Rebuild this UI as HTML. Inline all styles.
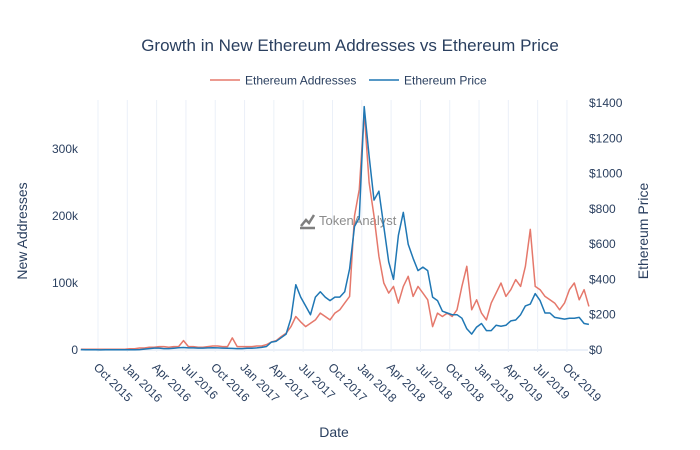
<!DOCTYPE html>
<html><head><meta charset="utf-8"><style>
body{margin:0;background:#fff}
svg{font-family:"Liberation Sans",sans-serif;display:block}
</style></head><body>
<svg id="c" width="700" height="450">
<text x="350" y="51" text-anchor="middle" font-size="17" fill="#2a3f5f">Growth in New Ethereum Addresses vs Ethereum Price</text>
<g>
<g><line x1="210" y1="80" x2="240" y2="80" stroke="#e5786b" stroke-width="1.5"/><text x="245" y="84.5" font-size="12" fill="#2a3f5f">Ethereum Addresses</text></g>
<g><line x1="369" y1="80" x2="399" y2="80" stroke="#1f77b4" stroke-width="1.5"/><text x="404" y="84.5" font-size="12" fill="#2a3f5f">Ethereum Price</text></g>
</g>
<g id="grid"></g>
<g opacity="0.75"><path d="M301 226 L306 220 L309 223 L314 215 M300 228 L315 228" stroke="#555" stroke-width="2.5" fill="none"/><text x="319" y="225" font-size="13" fill="#666">TokenAnalyst</text></g>
<g id="marks"></g>
<g id="axes"></g>
<text x="334" y="437" text-anchor="middle" font-size="14" fill="#2a3f5f">Date</text>
<text transform="translate(27,231) rotate(-90)" text-anchor="middle" font-size="14" fill="#2a3f5f">New Addresses</text>
<text transform="translate(648,231) rotate(-90)" text-anchor="middle" font-size="14" fill="#2a3f5f">Ethereum Price</text>
</svg>
<script>
const addresses=[1,1,1,1,1,1,1,1,1,1,
2,2,3,3,4,4,5,5,4,5,5,14,5,5,4,4,5,6,6,5,5,18,5,5,
5,5,6,6,8,12,14,20,25,35,50,42,35,40,45,55,50,45,55,60,70,80,200,240,
355,250,200,140,100,85,95,70,95,110,80,95,85,75,35,55,50,55,50,60,95,125,60,75,
55,45,70,85,100,80,90,105,95,125,180,95,90,80,75,70,60,70,90,100,75,90,65];
const price=[2,1.5,1,0.9,0.6,0.9,0.9,0.9,0.9,0.9,
1,1.2,2,5,8,11,11,8,8,10,13,14,12,12,11,11,12,13,12,11,10,9,8,8,
10,10,12,15,20,45,50,70,90,180,370,300,250,200,300,330,300,280,300,300,330,460,700,750,
1380,1100,850,900,700,500,400,650,780,600,520,450,470,450,300,280,220,210,200,200,180,120,90,130,
150,110,110,140,135,140,165,170,200,250,260,320,280,210,210,185,180,175,180,180,185,150,145];
const xTicks=["Oct 2015","Jan 2016","Apr 2016","Jul 2016","Oct 2016","Jan 2017","Apr 2017","Jul 2017","Oct 2017","Jan 2018","Apr 2018","Jul 2018","Oct 2018","Jan 2019","Apr 2019","Jul 2019","Oct 2019"];
const leftTicks=[0,100,200,300];
const rightTicks=[0,200,400,600,800,1000,1200,1400];
const NS="http://www.w3.org/2000/svg";
const xs=m=>98+m*9.77;
const yL=k=>350-k*0.67;
const yR=p=>350-p*0.1764;
const monthOf=i=>-2+i*0.5+0.25;
const grid=document.getElementById('grid'),axes=document.getElementById('axes'),marks=document.getElementById('marks');
function mk(tag,attrs,parent){const e=document.createElementNS(NS,tag);for(const k in attrs)e.setAttribute(k,attrs[k]);parent.appendChild(e);return e;}
xTicks.forEach((t,i)=>{
  const x=xs(i*3);
  const g=mk('line',{x1:x,x2:x,y1:100,y2:352,stroke:'#ebf0f8','stroke-width':1},grid);
  
  
  const tx=mk('text',{transform:`translate(${x-5},${368}) rotate(45)`,'font-size':12,fill:'#2a3f5f'},axes);
  tx.textContent=t;
  
  
});
const z=mk('line',{x1:80,x2:588,y1:350,y2:350,stroke:'#ebf0f8','stroke-width':2},grid);


leftTicks.forEach(v=>{
  const t=mk('text',{x:78,y:yL(v)+4,'text-anchor':'end','font-size':12,fill:'#2a3f5f'},axes);
  t.textContent=v===0?'0':v+'k';
  
  
});
rightTicks.forEach(v=>{
  const t=mk('text',{x:589,y:yR(v)+4,'font-size':12,fill:'#2a3f5f'},axes);
  t.textContent='$'+v;
  
  
});
function series(arr,yf,col){
  const d=arr.map((v,i)=>(i?'L':'M')+xs(monthOf(i)).toFixed(1)+' '+yf(v).toFixed(1)).join(' ');
  return mk('path',{d:d,fill:'none',stroke:col,'stroke-width':1.5,'stroke-linejoin':'round'},marks);
}
const a=series(addresses,yL,'#e5786b');


const p=series(price,yR,'#1f77b4');


</script>
</body></html>
